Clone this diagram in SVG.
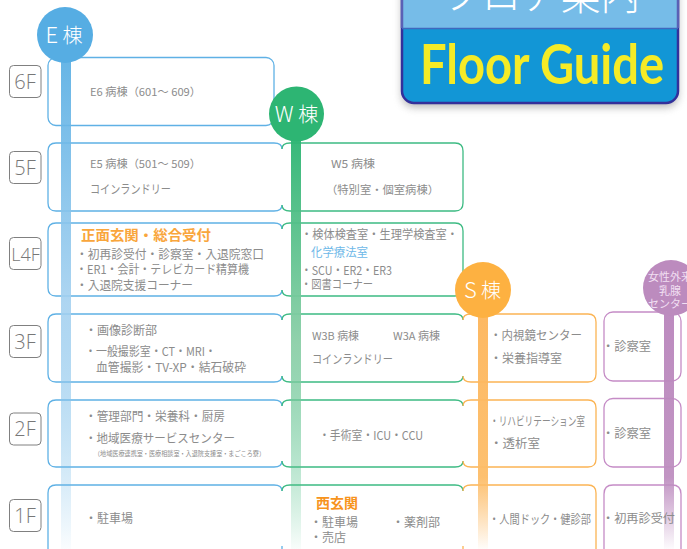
<svg xmlns="http://www.w3.org/2000/svg" width="687" height="549" viewBox="0 0 687 549">
<style>
text{font-family:"Noto Sans CJK JP","Noto Sans",sans-serif;fill:#8c8c8c;font-size:12px;font-weight:400}
.fl rect{fill:#fff;stroke:#808080;stroke-width:1}
.fl text{font-family:"Open Sans","Noto Sans",sans-serif;font-weight:300;font-size:20px;text-anchor:middle;fill:#777}
.e{fill:none;stroke:#5FB1E5;stroke-width:1.3}
.w{fill:none;stroke:#3DBB83;stroke-width:1.3}
.s{fill:none;stroke:#FBB454;stroke-width:1.3}
.p{fill:none;stroke:#C58CC6;stroke-width:1.3}
.ct{fill:#fff;font-size:20px;font-family:"Noto Sans CJK JP",sans-serif;font-weight:300;text-anchor:middle}
.o{fill:#F9A63C;font-weight:700;font-size:14px}
</style>
<defs>
<linearGradient id="ge" gradientUnits="userSpaceOnUse" x1="0" y1="60" x2="0" y2="549"><stop offset="0" stop-color="#56ADE3"/><stop offset="0.5" stop-color="#A5D1F0"/><stop offset="1" stop-color="#56ADE3" stop-opacity="0.03"/></linearGradient>
<linearGradient id="gw" gradientUnits="userSpaceOnUse" x1="0" y1="140" x2="0" y2="549"><stop offset="0" stop-color="#2DB573"/><stop offset="0.5" stop-color="#8CCFA8"/><stop offset="1" stop-color="#2DB573" stop-opacity="0.03"/></linearGradient>
<linearGradient id="gs" gradientUnits="userSpaceOnUse" x1="0" y1="310" x2="0" y2="549"><stop offset="0" stop-color="#FDB55A"/><stop offset="0.7" stop-color="#FDBD68"/><stop offset="1" stop-color="#FDB55A" stop-opacity="0.03"/></linearGradient>
<linearGradient id="gp" gradientUnits="userSpaceOnUse" x1="0" y1="310" x2="0" y2="549"><stop offset="0" stop-color="#B985BC"/><stop offset="0.7" stop-color="#BE8FC0"/><stop offset="1" stop-color="#B985BC" stop-opacity="0.03"/></linearGradient>
<filter id="sh" x="-10%" y="-20%" width="120%" height="150%"><feGaussianBlur stdDeviation="4"/></filter>
</defs>
<rect width="687" height="549" fill="#fff"/>

<g id="floor-labels" class="fl">
<g id="f6"><rect x="9.5" y="65.5" width="31.5" height="32" rx="4"/><text x="25" y="89">6F</text></g>
<g id="f5"><rect x="9.5" y="151.5" width="31.5" height="32" rx="4"/><text x="25" y="175">5F</text></g>
<g id="f4"><rect x="9.5" y="237.5" width="31.5" height="32" rx="4"/><text x="25.5" y="261" style="font-size:18px">L4F</text></g>
<g id="f3"><rect x="9.5" y="325.5" width="31.5" height="32" rx="4"/><text x="25" y="349">3F</text></g>
<g id="f2"><rect x="9.5" y="413" width="31.5" height="32" rx="4"/><text x="25" y="436">2F</text></g>
<g id="f1"><rect x="9.5" y="499.5" width="31.5" height="32" rx="4"/><text x="25" y="523">1F</text></g>
</g>

<g id="e-boxes">
<rect class="e" x="48" y="57.5" width="226" height="68" rx="8"/>
<path class="e" d="M282 149q0-6-8-6H56q-8 0-8 8v52q0 8 8 8H274q8 0 8-6"/>
<path class="e" d="M282 229q0-6-8-6H56q-8 0-8 8v57q0 8 8 8H274q8 0 8-6"/>
<path class="e" d="M282 320q0-6-8-6H56q-8 0-8 8v52q0 8 8 8H274q8 0 8-6"/>
<path class="e" d="M282 406q0-6-8-6H56q-8 0-8 8v51q0 8 8 8H274q8 0 8-6"/>
<path class="e" d="M282 491q0-6-8-6H56q-8 0-8 8v64M282 549v-3"/>
</g>
<g id="w-boxes">
<path class="w" d="M282 149q0-6 8-6H455q8 0 8 8v52q0 8-8 8H290q-8 0-8-6"/>
<path class="w" d="M282 229q0-6 8-6H455q8 0 8 8v57q0 8-8 8H290q-8 0-8-6"/>
<path class="w" d="M282 320q0-6 8-6H455q8 0 8 6M463 376q0 6-8 6H290q-8 0-8-6"/>
<path class="w" d="M282 406q0-6 8-6H455q8 0 8 6M463 461q0 6-8 6H290q-8 0-8-6"/>
<path class="w" d="M282 491q0-6 8-6H455q8 0 8 6"/>
</g>
<g id="s-boxes">
<path class="s" d="M463 320q0-6 8-6H588q8 0 8 8v52q0 8-8 8H471q-8 0-8-6"/>
<path class="s" d="M463 406q0-6 8-6H588q8 0 8 8v51q0 8-8 8H471q-8 0-8-6"/>
<path class="s" d="M463 491q0-6 8-6H588q8 0 8 8v64M463 549v-3"/>
</g>
<g id="p-boxes">
<rect class="p" x="604" y="312" width="77" height="69" rx="9"/>
<rect class="p" x="604" y="398.500" width="77" height="68.500" rx="9"/>
<path class="p" d="M604 557V494q0-9 9-9H672q9 0 9 9v63"/>
</g>

<g id="connectors">
<rect x="61" y="55" width="10" height="494" fill="url(#ge)" opacity="0.9"/>
<rect x="291" y="135" width="10" height="414" fill="url(#gw)" opacity="0.95"/>
<rect x="478" y="310" width="10" height="239" fill="url(#gs)" opacity="0.95"/>
<rect x="664" y="310" width="10" height="239" fill="url(#gp)" opacity="0.95"/>
</g>

<g id="e-building"><circle cx="65" cy="35" r="28" fill="#56ADE3"/><text class="ct" x="64" y="43"><tspan style="font-size:22px">E</tspan> 棟</text></g>
<g id="w-building"><circle cx="296.500" cy="114" r="27.500" fill="#2DB573"/><text class="ct" x="296.500" y="122"><tspan style="font-size:22px">W</tspan> 棟</text></g>
<g id="s-building"><circle cx="483" cy="290" r="28" fill="#FDB141"/><text class="ct" x="482.500" y="298"><tspan style="font-size:22px">S</tspan> 棟</text></g>
<g id="p-building"><circle cx="671" cy="288" r="28" fill="#BC8BBE"/>
<text x="670" y="281" style="fill:#F1DFF2;font-size:11px;text-anchor:middle">女性外来</text>
<text x="670" y="295" style="fill:#F1DFF2;font-size:11px;text-anchor:middle">乳腺</text>
<text x="670" y="308" style="fill:#F1DFF2;font-size:11px;text-anchor:middle">センター</text></g>

<g id="header">
<rect x="402" y="-30" width="276" height="132" rx="12" fill="#777" opacity="0.55" filter="url(#sh)" transform="translate(0,5)"/>
<rect x="402" y="-30" width="276" height="133" rx="12" fill="#1296D6" stroke="#33309B" stroke-width="2.500"/>
<path d="M403 -30H677V28H403Z" fill="#76BCE8"/>
<path d="M402 -30V28M678 -30V28" stroke="#5A60B5" stroke-width="2.500"/>
<path d="M402 28.500H678" stroke="#3F68BE" stroke-width="1.500"/>
<text x="442" y="10" textLength="198" lengthAdjust="spacingAndGlyphs" style="fill:#fff;font-size:44px;font-weight:300">フロア案内</text>
<text x="420" y="84" textLength="244" lengthAdjust="spacingAndGlyphs" style="fill:#F5EB27;font-family:Lato,'Open Sans',sans-serif;font-weight:700;font-size:55px">Floor Guide</text>
</g>

<g id="e6"><text x="90" y="96" textLength="111" lengthAdjust="spacingAndGlyphs" style="font-size:11px">E6 病棟（601～ 609）</text></g>
<g id="e5"><text x="90" y="168" textLength="111" lengthAdjust="spacingAndGlyphs" style="font-size:11px">E5 病棟（501～ 509）</text>
<text x="90" y="194" textLength="81" lengthAdjust="spacingAndGlyphs">コインランドリー</text></g>
<g id="w5"><text x="331" y="168" textLength="44" lengthAdjust="spacingAndGlyphs" style="font-size:11px">W5 病棟</text>
<text x="326" y="194" textLength="113" lengthAdjust="spacingAndGlyphs" style="font-size:11px">（特別室・個室病棟）</text></g>
<g id="e4"><text class="o" x="81" y="240" textLength="130" lengthAdjust="spacingAndGlyphs">正面玄関・総合受付</text>
<text x="76" y="259" textLength="188" lengthAdjust="spacingAndGlyphs">・初再診受付・診察室・入退院窓口</text>
<text x="76" y="274" textLength="173" lengthAdjust="spacingAndGlyphs">・ER1・会計・テレビカード精算機</text>
<text x="76" y="290" textLength="117" lengthAdjust="spacingAndGlyphs">・入退院支援コーナー</text></g>
<g id="w4"><text x="301" y="239" textLength="157" lengthAdjust="spacingAndGlyphs">・検体検査室・生理学検査室・</text>
<text x="311" y="257" textLength="57" lengthAdjust="spacingAndGlyphs" style="fill:#6DB8E8">化学療法室</text>
<text x="301" y="275" textLength="91" lengthAdjust="spacingAndGlyphs">・SCU・ER2・ER3</text>
<text x="301" y="289" textLength="72" lengthAdjust="spacingAndGlyphs">・図書コーナー</text></g>
<g id="e3"><text x="85" y="335" textLength="72" lengthAdjust="spacingAndGlyphs">・画像診断部</text>
<text x="85" y="356" textLength="131" lengthAdjust="spacingAndGlyphs">・一般撮影室・CT・MRI・</text>
<text x="96" y="372" textLength="150" lengthAdjust="spacingAndGlyphs">血管撮影・TV-XP・結石破砕</text></g>
<g id="w3"><text x="312" y="340" textLength="47" lengthAdjust="spacingAndGlyphs" style="font-size:11px">W3B 病棟</text>
<text x="393" y="340" textLength="47" lengthAdjust="spacingAndGlyphs" style="font-size:11px">W3A 病棟</text>
<text x="312" y="364" textLength="81" lengthAdjust="spacingAndGlyphs">コインランドリー</text></g>
<g id="s3"><text x="490" y="340" textLength="92" lengthAdjust="spacingAndGlyphs">・内視鏡センター</text>
<text x="490" y="363" textLength="72" lengthAdjust="spacingAndGlyphs">・栄養指導室</text></g>
<g id="p3"><text x="602" y="351" textLength="49" lengthAdjust="spacingAndGlyphs">・診察室</text></g>
<g id="e2"><text x="85" y="421" textLength="140" lengthAdjust="spacingAndGlyphs">・管理部門・栄養科・厨房</text>
<text x="85" y="443" textLength="150" lengthAdjust="spacingAndGlyphs">・地域医療サービスセンター</text>
<text x="94" y="456" textLength="171" lengthAdjust="spacingAndGlyphs" style="font-size:6.500px">（地域医療連携室・医療相談室・入退院支援室・まごころ寮）</text></g>
<g id="w2"><text x="319" y="440" textLength="104" lengthAdjust="spacingAndGlyphs">・手術室・ICU・CCU</text></g>
<g id="s2"><text x="490" y="426" textLength="95" lengthAdjust="spacingAndGlyphs">・リハビリテーション室</text>
<text x="490" y="448" textLength="50" lengthAdjust="spacingAndGlyphs">・透析室</text></g>
<g id="p2"><text x="602" y="438" textLength="49" lengthAdjust="spacingAndGlyphs">・診察室</text></g>
<g id="e1"><text x="85" y="523" textLength="48" lengthAdjust="spacingAndGlyphs">・駐車場</text></g>
<g id="w1"><text class="o" x="316" y="508" textLength="42" lengthAdjust="spacingAndGlyphs" style="fill:#F7941E">西玄関</text>
<text x="310" y="527" textLength="48" lengthAdjust="spacingAndGlyphs">・駐車場</text>
<text x="392" y="527" textLength="48" lengthAdjust="spacingAndGlyphs">・薬剤部</text>
<text x="310" y="542" textLength="36" lengthAdjust="spacingAndGlyphs">・売店</text></g>
<g id="s1"><text x="489" y="524" textLength="102" lengthAdjust="spacingAndGlyphs">・人間ドック・健診部</text></g>
<g id="p1"><text x="602" y="523" textLength="73" lengthAdjust="spacingAndGlyphs">・初再診受付</text></g>
</svg>
